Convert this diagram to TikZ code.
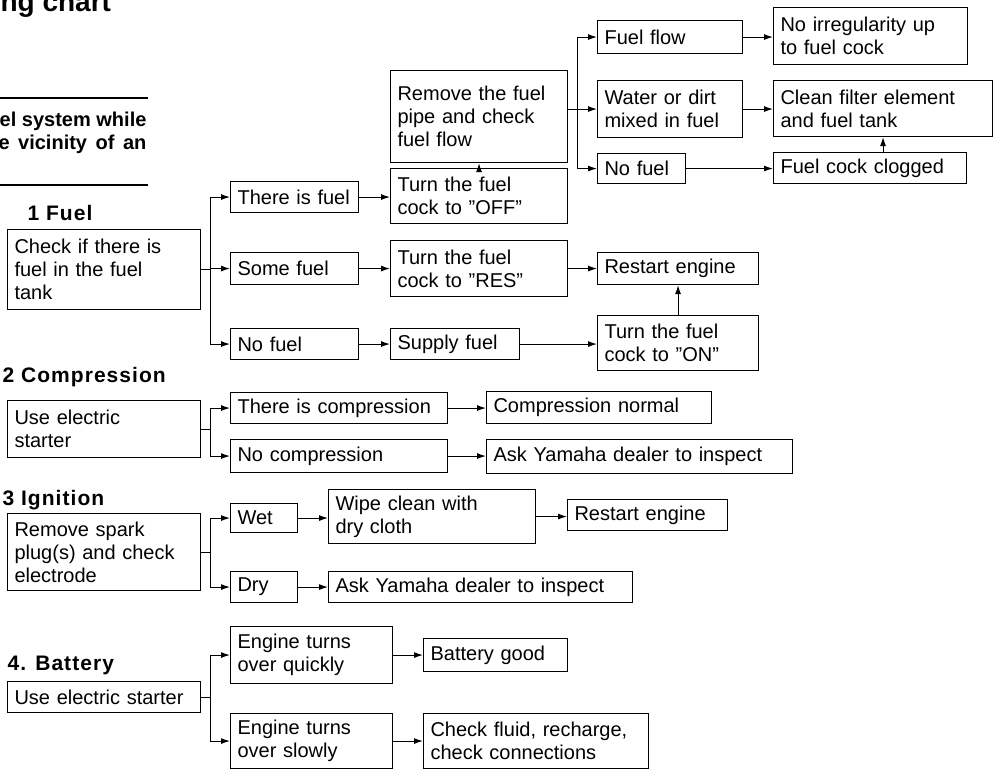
\documentclass[tikz,border=0pt]{standalone}
\usepackage{fontspec}
\setmainfont{Liberation Sans}
\usetikzlibrary{arrows.meta,positioning}

\begin{document}
\begin{tikzpicture}[
  x=1pt,y=-1pt,
  line width=1.1pt,
  every node/.style={font=\fontsize{20}{23}\selectfont},
  box/.style={draw,anchor=north west,align=left,inner xsep=7pt,inner ysep=2pt},
  bx/.style 2 args={box,text width=#1pt,minimum height=#2pt},
  head/.style={anchor=west,inner sep=0pt,font=\fontsize{21}{24}\selectfont\bfseries\addfontfeatures{LetterSpace=5}},
  arr/.style={-{Latex[length=9pt,width=6pt]}}
]
\useasboundingbox (0,0) rectangle (994,769);
\clip (0,0) rectangle (994,769);

% cut-off page text on the left
\node[anchor=base west,inner sep=0pt,font=\fontsize{28}{30}\selectfont\bfseries] (title) at (0,11) {ng chart};
\draw[line width=1.8pt] (0,98) -- (148,98);
\node[anchor=east,inner sep=0pt,font=\fontsize{20}{23}\selectfont\bfseries] (warn1) at (147,121) {el system while};
\node[anchor=east,inner sep=0pt,font=\fontsize{20}{23}\selectfont\bfseries] (warn2) at (147,144) {e\hspace{3pt} vicinity\hspace{3pt} of\hspace{3pt} an};
\draw[line width=1.8pt] (0,185) -- (148,185);

% 1 Fuel
\node[head] (hfuel) at (27,213) {1 Fuel};
\node[bx={179}{80}] (fuelchk) at (7,229) {Check if there is\\fuel in the fuel\\tank};
\node[bx={114}{31}] (isfuel) at (230,181) {There is fuel};
\node[bx={114}{32}] (somefuel) at (230,252) {Some fuel};
\node[bx={114}{31}] (nofuel) at (230,328) {No fuel};
\node[bx={163}{55}] (off) at (390,168) {Turn the fuel\\cock to ''OFF''};
\node[bx={163}{92}] (remove) at (390,70) {Remove the fuel\\pipe and check\\fuel flow};
\node[bx={163}{56}] (res) at (390,240) {Turn the fuel\\cock to ''RES''};
\node[bx={115}{31}] (supply) at (390,328) {Supply fuel};
\node[bx={131}{33}] (flow) at (597,20) {Fuel flow};
\node[bx={131}{57}] (water) at (597,80) {Water or dirt\\mixed in fuel};
\node[bx={74}{30}] (nofuelb) at (597,153) {No fuel};
\node[bx={180}{57}] (noirr) at (773,7) {No irregularity up\\to fuel cock};
\node[bx={205}{56}] (clean) at (773,80) {Clean filter element\\and fuel tank};
\node[bx={179}{31}] (clogged) at (773,152) {Fuel cock clogged};
\node[bx={147}{32}] (restarta) at (597,252) {Restart engine};
\node[bx={147}{55}] (on) at (597,315) {Turn the fuel\\cock to ''ON''};

\path (fuelchk.east) ++(9,0) coordinate (jfuel);
\draw (fuelchk.east) -- (jfuel);
\draw[arr] (jfuel) |- (isfuel.west);
\draw[arr] (jfuel) |- (somefuel.west);
\draw[arr] (jfuel) |- (nofuel.west);
\draw[arr] (isfuel.east) -- (isfuel.east -| off.west);
\draw[arr] (somefuel.east) -- (somefuel.east -| res.west);
\draw[arr] (nofuel.east) -- (nofuel.east -| supply.west);
\draw[arr] (off.north) -- (remove.south);
\path (water.west -| remove.east) coordinate (rmout) ++(9,0) coordinate (jflow);
\draw (rmout) -- (jflow);
\draw[arr] (jflow) |- (flow.west);
\draw[arr] (jflow) -- (water.west);
\draw[arr] (jflow) |- (nofuelb.west);
\draw[arr] (flow.east) -- (flow.east -| noirr.west);
\draw[arr] (water.east) -- (water.east -| clean.west);
\draw[arr] (nofuelb.east) -- (nofuelb.east -| clogged.west);
\draw[arr] (clean.south |- clogged.north) -- (clean.south);
\draw[arr] (res.east) -- (res.east -| restarta.west);
\draw[arr] (supply.east) -- (supply.east -| on.west);
\draw[arr] (on.north) -- (restarta.south);

% 2 Compression
\node[head] (hcomp) at (2,377) {2 Compression};
\node[bx={179}{57}] (comp) at (7,400) {Use electric\\starter};
\node[bx={203}{31}] (iscomp) at (230,392) {There is compression};
\node[bx={203}{33}] (nocomp) at (230,439) {No compression};
\node[bx={211}{32}] (normal) at (486,391) {Compression normal};
\node[bx={292}{34}] (aska) at (486,439) {Ask Yamaha dealer to inspect};

\path (comp.east) ++(9,0) coordinate (jcomp);
\draw (comp.east) -- (jcomp);
\draw[arr] (jcomp) |- (iscomp.west);
\draw[arr] (jcomp) |- (nocomp.west);
\draw[arr] (iscomp.east) -- (iscomp.east -| normal.west);
\draw[arr] (nocomp.east) -- (nocomp.east -| aska.west);

% 3 Ignition
\node[head] (hign) at (2,500) {3 Ignition};
\node[bx={179}{77}] (ign) at (7,513) {Remove spark\\plug(s) and check\\electrode};
\node[bx={53}{29}] (wet) at (230,503) {Wet};
\node[bx={53}{31}] (dry) at (230,571) {Dry};
\node[bx={193}{54}] (wipe) at (328,489) {Wipe clean with\\dry cloth};
\node[bx={146}{31}] (restartb) at (567,499) {Restart engine};
\node[bx={290}{31}] (askb) at (328,571) {Ask Yamaha dealer to inspect};

\path (ign.east) ++(9,0) coordinate (jign);
\draw (ign.east) -- (jign);
\draw[arr] (jign) |- (wet.west);
\draw[arr] (jign) |- (dry.west);
\draw[arr] (wet.east) -- (wet.east -| wipe.west);
\draw[arr] (wipe.east) -- (wipe.east -| restartb.west);
\draw[arr] (dry.east) -- (dry.east -| askb.west);

% 4 Battery
\node[head] (hbat) at (7,665) {4. Battery};
\node[bx={179}{31}] (bat) at (7,681) {\mbox{Use electric starter}};
\node[bx={148}{57}] (quick) at (230,626) {Engine turns\\over quickly};
\node[bx={148}{55}] (slow) at (230,713) {Engine turns\\over slowly};
\node[bx={130}{33}] (good) at (423,638) {Battery good};
\node[bx={211}{55}] (check) at (423,713) {Check fluid, recharge,\\check connections};

\path (bat.east) ++(9,0) coordinate (jbat);
\draw (bat.east) -- (jbat);
\draw[arr] (jbat) |- (quick.west);
\draw[arr] (jbat) |- (slow.west);
\draw[arr] (quick.east) -- (quick.east -| good.west);
\draw[arr] (slow.east) -- (slow.east -| check.west);
\end{tikzpicture}
\end{document}
